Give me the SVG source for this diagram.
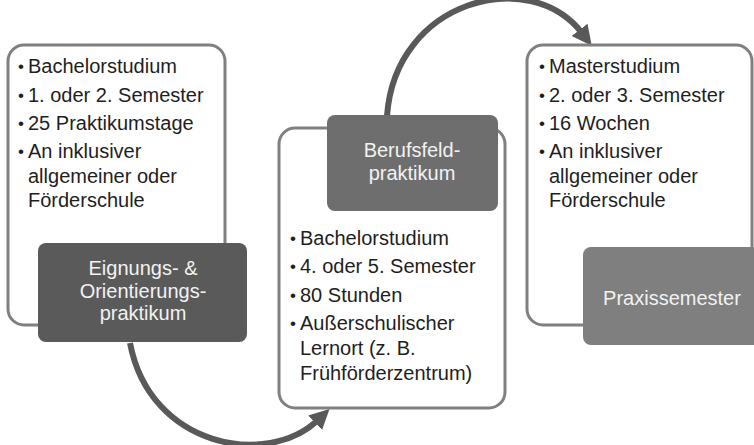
<svg xmlns="http://www.w3.org/2000/svg" width="754" height="445" viewBox="0 0 754 445">
<style>
.box{fill:#fff;stroke:#808080;stroke-width:3}
.t{font-family:"Liberation Sans",Arial,sans-serif;font-size:20px;fill:#1e1e1e}
.b{font-family:"Liberation Sans",Arial,sans-serif;font-size:17px;fill:#1e1e1e}
.h{font-family:"Liberation Sans",Arial,sans-serif;font-size:20px;fill:#f2f2f2;text-anchor:middle}
.arr{fill:none;stroke:#595959;stroke-width:6}
</style>
<defs>
<marker id="ah" markerUnits="userSpaceOnUse" markerWidth="22" markerHeight="22" refX="4" refY="10" orient="auto" viewBox="0 0 22 20">
<path d="M0,0 L20,10 L0,20 Z" fill="#595959"/>
</marker>
</defs>
<g id="connectors">
<path class="arr" d="M130,343 C150,448 268,468 318,420" marker-end="url(#ah)"/>
<path class="arr" d="M387,116 C395,0 530,-35 582,33" marker-end="url(#ah)"/>
</g>
<g id="eignung">
<rect class="box" x="8" y="45" width="217" height="280" rx="16"/>
<text class="b" x="18" y="72">•</text><text class="t" x="28" y="73">Bachelorstudium</text>
<text class="b" x="18" y="101">•</text><text class="t" x="28" y="102">1. oder 2. Semester</text>
<text class="b" x="18" y="129">•</text><text class="t" x="28" y="130">25 Praktikumstage</text>
<text class="b" x="18" y="157">•</text><text class="t" x="28" y="158">An inklusiver</text>
<text class="t" x="28" y="183">allgemeiner oder</text>
<text class="t" x="28" y="207">Förderschule</text>
<rect x="38" y="243" width="209" height="99" rx="8" fill="#5a5a5a"/>
<text class="h" x="143" y="275">Eignungs- &amp;</text>
<text class="h" x="143" y="298">Orientierungs-</text>
<text class="h" x="143" y="320">praktikum</text>
</g>
<g id="berufsfeld">
<rect class="box" x="279" y="128" width="226" height="280" rx="16"/>
<rect x="327" y="115" width="171" height="96" rx="8" fill="#6e6e6e"/>
<text class="h" x="412" y="157">Berufsfeld-</text>
<text class="h" x="412" y="180">praktikum</text>
<text class="b" x="290" y="244">•</text><text class="t" x="300" y="245">Bachelorstudium</text>
<text class="b" x="290" y="272">•</text><text class="t" x="300" y="273">4. oder 5. Semester</text>
<text class="b" x="290" y="301">•</text><text class="t" x="300" y="302">80 Stunden</text>
<text class="b" x="290" y="329">•</text><text class="t" x="300" y="330">Außerschulischer</text>
<text class="t" x="300" y="355">Lernort (z. B.</text>
<text class="t" x="300" y="380">Frühförderzentrum)</text>
</g>
<g id="praxissemester">
<rect class="box" x="527" y="45" width="225" height="280" rx="16"/>
<text class="b" x="539" y="72">•</text><text class="t" x="549" y="73">Masterstudium</text>
<text class="b" x="539" y="101">•</text><text class="t" x="549" y="102">2. oder 3. Semester</text>
<text class="b" x="539" y="129">•</text><text class="t" x="549" y="130">16 Wochen</text>
<text class="b" x="539" y="157">•</text><text class="t" x="549" y="158">An inklusiver</text>
<text class="t" x="549" y="183">allgemeiner oder</text>
<text class="t" x="549" y="207">Förderschule</text>
<rect x="583" y="247" width="180" height="98" rx="8" fill="#7f7f7f"/>
<text class="h" x="672" y="305">Praxissemester</text>
</g>
</svg>
